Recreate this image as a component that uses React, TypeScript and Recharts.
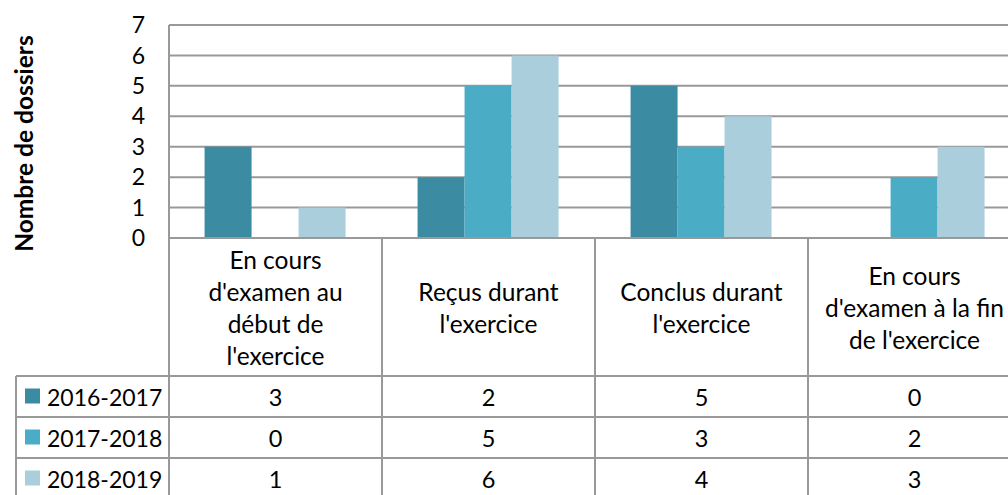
import { BarChart, Bar, XAxis, YAxis, CartesianGrid } from 'recharts';

const categories = [
  ['En cours', "d'examen au", 'début de', "l'exercice"],
  ['Reçus durant', "l'exercice"],
  ['Conclus durant', "l'exercice"],
  ['En cours', "d'examen à la fin", "de l'exercice"],
];
const seriesNames = ['2016-2017', '2017-2018', '2018-2019'];
const values2016 = [3, 2, 5, 0];
const values2017 = [0, 5, 3, 2];
const values2018 = [1, 6, 4, 3];
const yTicks = [0, 1, 2, 3, 4, 5, 6, 7];

const seriesKeys = ['s2016', 's2017', 's2018'];
const colors = ['#3B8BA3', '#4BACC6', '#AACEDC'];
const seriesValues = [values2016, values2017, values2018];

const data = categories.map((lines, i) => ({
  name: lines.join(' '),
  s2016: values2016[i],
  s2017: values2017[i],
  s2018: values2018[i],
}));

// layout
const CHART_W = 1040;
const CHART_H = 503;
const Y_AXIS_W = 169;
const MARGIN = { top: 25, right: 19, left: 0, bottom: 0 };
const COL_W = (CHART_W - Y_AXIS_W - MARGIN.right - MARGIN.left) / categories.length;
const HEADER_H = 138;
const ROW_H = 41;
const LEGEND_W = 153;
const LINE_H = 32;
const FONT = 'Lato, "Open Sans", sans-serif';
const GRID = '#999999';

const CategoryTick = (props: any) => {
  const { x, y, index } = props;
  const lines = categories[index];
  const left = x - COL_W / 2;
  const right = x + COL_W / 2;
  const bottom = y + HEADER_H + ROW_H * seriesNames.length + 10;
  const mid = y + HEADER_H / 2;
  return (
    <g>
      <line x1={left} x2={left} y1={y} y2={bottom} stroke={GRID} strokeWidth={2} />
      <line x1={right} x2={right} y1={y} y2={bottom} stroke={GRID} strokeWidth={2} />
      {lines.map((t, i) => (
        <text
          key={i}
          x={x}
          y={mid + (i - (lines.length - 1) / 2) * LINE_H}
          textAnchor="middle"
          dominantBaseline="central"
          fontFamily={FONT}
          fontSize={24.5}
          fill="#000"
        >
          {t}
        </text>
      ))}
      {seriesNames.map((_, s) => {
        const rowTop = y + HEADER_H + ROW_H * s;
        return (
          <g key={s}>
            <line
              x1={index === 0 ? left - LEGEND_W : left}
              x2={right}
              y1={rowTop}
              y2={rowTop}
              stroke={GRID}
              strokeWidth={2}
            />
            <text
              x={x}
              y={rowTop + ROW_H / 2}
              textAnchor="middle"
              dominantBaseline="central"
              fontFamily={FONT}
              fontSize={23.5}
              fill="#000"
            >
              {seriesValues[s][index]}
            </text>
          </g>
        );
      })}
      {index === 0 && (
        <g>
          <line
            x1={left - LEGEND_W}
            x2={left - LEGEND_W}
            y1={y + HEADER_H}
            y2={bottom}
            stroke={GRID}
            strokeWidth={2}
          />
          {seriesNames.map((n, s) => {
            const cy = y + HEADER_H + ROW_H * s + ROW_H / 2;
            return (
              <g key={n}>
                <rect x={left - LEGEND_W + 9} y={cy - 8} width={15} height={15} fill={colors[s]} />
                <text
                  x={left - LEGEND_W + 31}
                  y={cy}
                  dominantBaseline="central"
                  fontFamily={FONT}
                  fontSize={23}
                  fill="#000"
                >
                  {n}
                </text>
              </g>
            );
          })}
        </g>
      )}
    </g>
  );
};

const AxisTitle = (props: any) => {
  const { viewBox } = props;
  const cy = viewBox.y + viewBox.height / 2 + 12;
  return (
    <text
      x={33}
      y={cy}
      transform={`rotate(-90 33 ${cy})`}
      textAnchor="middle"
      fontFamily={FONT}
      fontWeight="bold"
      fontSize={24.5}
      fill="#000"
    >
      Nombre de dossiers
    </text>
  );
};

export default function App() {
  return (
    <div
      style={{
        position: 'absolute',
        left: 0,
        top: 0,
        width: 1008,
        height: 495,
        overflow: 'hidden',
        background: '#fff',
      }}
    >
      <BarChart
        width={CHART_W}
        height={CHART_H}
        data={data}
        margin={MARGIN}
        barCategoryGap="16.7%"
        barGap={0}
      >
        <CartesianGrid vertical={false} stroke={GRID} strokeWidth={2} />
        <XAxis
          dataKey="name"
          height={CHART_H - MARGIN.top - 213}
          interval={0}
          tickSize={0}
          tickMargin={0}
          tickLine={false}
          axisLine={{ stroke: GRID, strokeWidth: 2 }}
          tick={(p: any) => <CategoryTick {...p} />}
        />
        <YAxis
          width={Y_AXIS_W}
          domain={[0, 7]}
          ticks={yTicks}
          interval={0}
          tickSize={0}
          tickMargin={24}
          tickLine={false}
          axisLine={{ stroke: GRID, strokeWidth: 2 }}
          tick={{ fill: '#000', fontSize: 23, fontFamily: FONT }}
          label={{ content: (p: any) => <AxisTitle {...p} /> }}
        />
        {seriesKeys.map((k, i) => (
          <Bar key={k} dataKey={k} name={seriesNames[i]} fill={colors[i]} isAnimationActive={false} />
        ))}
      </BarChart>
    </div>
  );
}
